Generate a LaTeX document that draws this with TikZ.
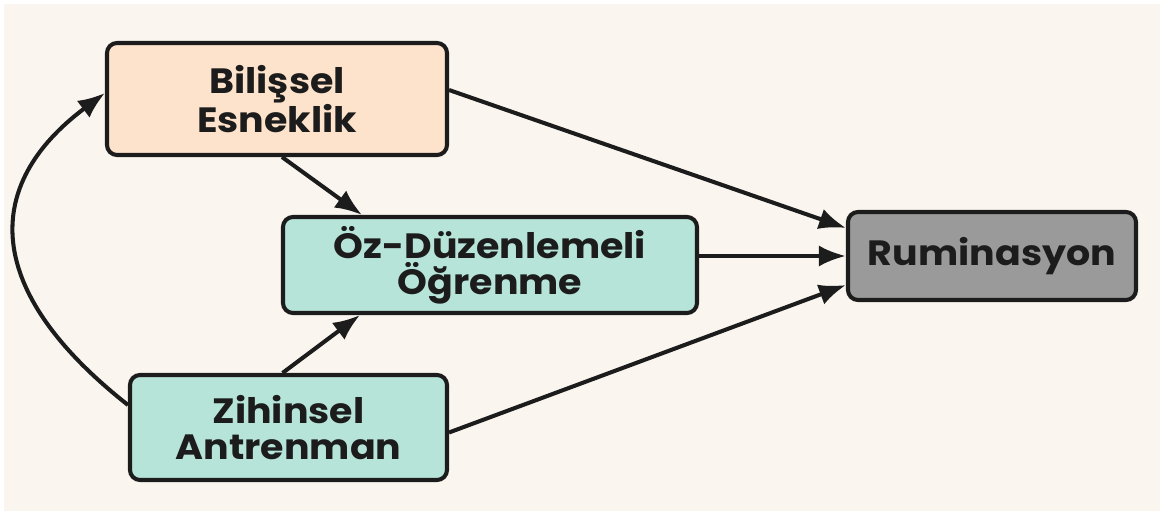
\documentclass[tikz,border=0pt]{standalone}
\usepackage{fontspec}
\setmainfont{Poppins}[FakeStretch=1.08]
\usepackage{tikz}
\usetikzlibrary{arrows.meta,positioning,calc}
\usepackage{xcolor}
\definecolor{bgcream}{HTML}{FAF6EF}
\definecolor{peach}{HTML}{FDE3CB}
\definecolor{mint}{HTML}{B6E4D9}
\definecolor{slate}{HTML}{9A9A9A}
\definecolor{ink}{HTML}{1C1C1C}

\begin{document}
\begin{tikzpicture}[>={Latex[length=5.4mm,width=4.2mm]},
    every node/.style={font=\fontsize{20}{20.5}\selectfont\bfseries, text=ink},
    box/.style={draw=ink, line width=2.3pt, rounded corners=0.2cm, align=center},
    link/.style={->, draw=ink, line width=2.3pt}]
            % Canvas
            \useasboundingbox (0,0) rectangle (23.28,10.30);
            \fill[white] (0,0) rectangle (23.28,10.30);
            \fill[bgcream] (0.08,0.08) rectangle (23.20,10.22);

            % Boxes
            \node[box, fill=peach, minimum width=6.8cm, minimum height=2.24cm] (bil) at (5.54,8.32) {Bilişsel\\Esneklik};
            \node[box, fill=mint, minimum width=8.28cm, minimum height=1.92cm] (oz) at (9.80,5.00) {Öz-Düzenlemeli\\Öğrenme};
            \node[box, fill=mint, minimum width=6.34cm, minimum height=2.1cm] (zih) at (5.77,1.75) {Zihinsel\\Antrenman};
            \node[box, fill=slate, minimum width=5.76cm, minimum height=1.76cm] (rum) at (19.84,5.18) {Ruminasyon};

            % Paths to Ruminasyon
            \draw[link] ([yshift=0.18cm]bil.east) -- ([yshift=0.56cm]rum.west);
            \draw[link] (oz.east |- rum.west) -- (rum.west);
            \draw[link] ([yshift=-0.1cm]zih.east) -- ([yshift=-0.58cm]rum.west);

            % Paths to Öz-Düzenlemeli Öğrenme
            \draw[link] ([xshift=0.1cm]bil.south) -- ([xshift=-2.56cm]oz.north);
            \draw[link] ([xshift=-0.12cm]zih.north) -- ([xshift=-2.6cm]oz.south);

            % Zihinsel -> Bilişsel
            \draw[link] ([yshift=0.45cm]zih.west) .. controls (-0.36,4.50) and (-0.36,6.60) .. ([yshift=0.12cm]bil.west);
        \end{tikzpicture}
\end{document}
